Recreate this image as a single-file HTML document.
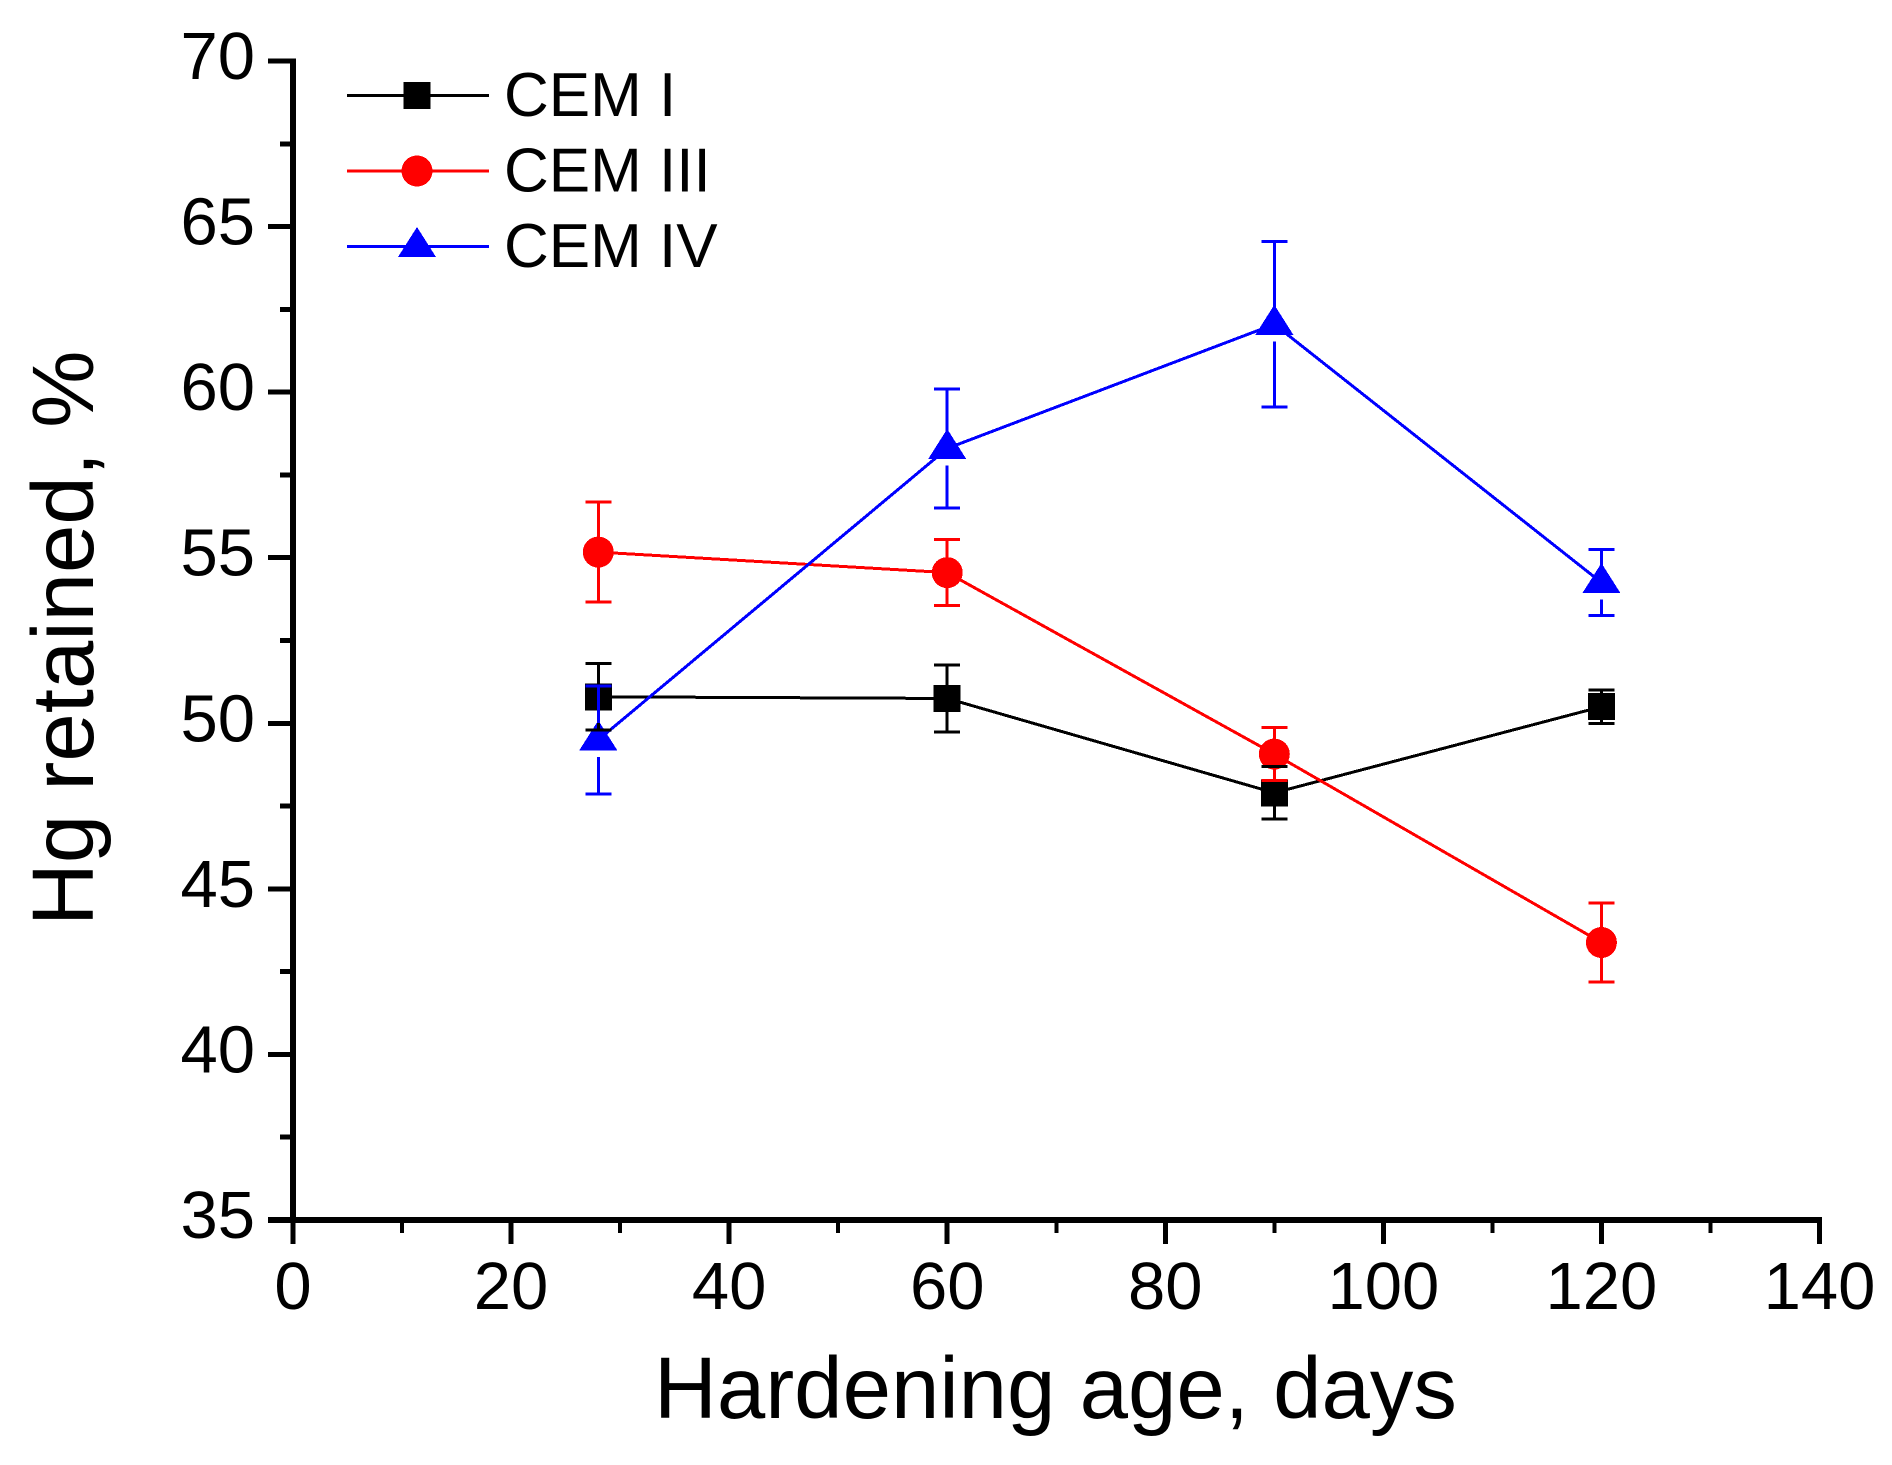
<!DOCTYPE html>
<html lang="en">
<head>
<meta charset="utf-8">
<title>Hg retained vs hardening age</title>
<style>
html,body{margin:0;padding:0;background:#fff;}
svg{display:block;}
text{font-family:"Liberation Sans",Arial,sans-serif;fill:#000;}
.tick{font-size:67px;}
.legend-text{font-size:62px;}
.title{font-size:87px;}
</style>
</head>
<body>
<svg id="chart" xmlns="http://www.w3.org/2000/svg" width="1892" height="1465" viewBox="0 0 1892 1465" shape-rendering="crispEdges">
  <rect x="0" y="0" width="1892" height="1465" fill="#fff"/>
  <g id="axes"></g>
  <g id="marks"></g>
  <g id="errors"></g>
  <text class="title" x="654" y="1418">Hardening age, days</text>
  <text class="title" transform="translate(93,926) rotate(-90)">Hg retained, %</text>
  <g id="legend"></g>
</svg>
<script>
const ages = [28, 60, 90, 120];
const cem1Values = [50.8, 50.75, 47.9, 50.5];
const cem1Errors = [1.01, 1.01, 0.79, 0.5];
const cem3Values = [55.17, 54.55, 49.07, 43.38];
const cem3Errors = [1.51, 1.0, 0.8, 1.19];
const cem4Values = [49.5, 58.3, 62.05, 54.25];
const cem4Errors = [1.63, 1.8, 2.5, 1.0];
const seriesNames = ['CEM I', 'CEM III', 'CEM IV'];
const xTickLabels = [0, 20, 40, 60, 80, 100, 120, 140];
const xMinorTicks = [10, 30, 50, 70, 90, 110, 130];
const yTickLabels = [35, 40, 45, 50, 55, 60, 65, 70];
const yMinorTicks = [37.5, 42.5, 47.5, 52.5, 57.5, 62.5, 67.5];

const NS = 'http://www.w3.org/2000/svg';
const xAxis = v => 293 + (v / 140) * (1819.5 - 293);
const yAxis = v => 1220 - ((v - 35) / 35) * (1220 - 61);

function make(parent, tag, attrs) {
  const el = document.createElementNS(NS, tag);
  for (const k in attrs) el.setAttribute(k, attrs[k]);
  parent.appendChild(el);
  return el;
}

const axes = document.getElementById('axes');
const marks = document.getElementById('marks');
const errors = document.getElementById('errors');
const legend = document.getElementById('legend');

const yLine = make(axes, 'line', {x1: 293, x2: 293, y1: 58.5, y2: 1222, stroke: '#000', 'stroke-width': 6});


const xLine = make(axes, 'line', {x1: 268, x2: 1822, y1: 1220, y2: 1220, stroke: '#000', 'stroke-width': 6});



xTickLabels.forEach(v => {
  const t = make(axes, 'line', {x1: xAxis(v), x2: xAxis(v), y1: 1220, y2: 1244, stroke: '#000', 'stroke-width': 5});
  
  
  const l = make(axes, 'text', {x: xAxis(v), y: 1309, 'text-anchor': 'middle', class: 'tick'});
  l.textContent = v;
  
  
});
xMinorTicks.forEach(v => {
  const t = make(axes, 'line', {x1: xAxis(v), x2: xAxis(v), y1: 1220, y2: 1233, stroke: '#000', 'stroke-width': 4});
  
  
});
yTickLabels.forEach(v => {
  const t = make(axes, 'line', {x1: 268, x2: 293, y1: yAxis(v), y2: yAxis(v), stroke: '#000', 'stroke-width': 5});
  
  
  const l = make(axes, 'text', {x: 255, y: yAxis(v) + 18, 'text-anchor': 'end', class: 'tick'});
  l.textContent = v;
  
  
});
yMinorTicks.forEach(v => {
  const t = make(axes, 'line', {x1: 280, x2: 293, y1: yAxis(v), y2: yAxis(v), stroke: '#000', 'stroke-width': 5});
  
  
});

function drawMarker(parent, shape, color, cx, cy) {
  let m;
  if (shape === 'square') {
    m = make(parent, 'rect', {x: cx - 13.5, y: cy - 13.5, width: 27, height: 27, fill: color});
  } else if (shape === 'circle') {
    m = make(parent, 'circle', {cx: cx, cy: cy, r: 15.5, fill: color});
  } else {
    m = make(parent, 'polygon', {points: (cx - 19) + ',' + (cy + 10.5) + ' ' + cx + ',' + (cy - 19.5) + ' ' + (cx + 19) + ',' + (cy + 10.5), fill: color});
  }
  return m;
}

function drawSeries(key, values, color, shape) {
  const poly = make(marks, 'polyline', {
    points: ages.map((a, i) => xAxis(a) + ',' + yAxis(values[i])).join(' '),
    fill: 'none', stroke: color, 'stroke-width': 3
  });
  
  
  ages.forEach((a, i) => {
    const m = drawMarker(marks, shape, color, xAxis(a), yAxis(values[i]));
    
    
  });
}

function drawErrors(key, values, errs, color, gap) {
  ages.forEach((a, i) => {
    const cx = xAxis(a);
    const cy = yAxis(values[i]);
    const top = yAxis(values[i] + errs[i]);
    const bot = yAxis(values[i] - errs[i]);
    const upper = make(errors, 'line', {x1: cx, x2: cx, y1: top, y2: Math.max(top, cy - gap), stroke: color, 'stroke-width': 3});
    
    
    const lower = make(errors, 'line', {x1: cx, x2: cx, y1: Math.min(bot, cy + gap), y2: bot, stroke: color, 'stroke-width': 3});
    
    
    const capTop = make(errors, 'line', {x1: cx - 13, x2: cx + 13, y1: top, y2: top, stroke: color, 'stroke-width': 3});
    
    
    const capBot = make(errors, 'line', {x1: cx - 13, x2: cx + 13, y1: bot, y2: bot, stroke: color, 'stroke-width': 3});
    
    
  });
}

drawSeries('cem-i', cem1Values, '#000000', 'square');
drawSeries('cem-iii', cem3Values, '#ff0000', 'circle');
drawSeries('cem-iv', cem4Values, '#0000ff', 'triangle');
drawErrors('cem-i', cem1Values, cem1Errors, '#000000', 13);
drawErrors('cem-iii', cem3Values, cem3Errors, '#ff0000', 14);
drawErrors('cem-iv', cem4Values, cem4Errors, '#0000ff', 17);

const legendColors = ['#000000', '#ff0000', '#0000ff'];
const legendShapes = ['square', 'circle', 'triangle'];
seriesNames.forEach((name, i) => {
  const ly = 95.5 + i * 75.5;
  const ln = make(legend, 'line', {x1: 347, x2: 489, y1: ly, y2: ly, stroke: legendColors[i], 'stroke-width': 3});
  
  
  const mk = drawMarker(legend, legendShapes[i], legendColors[i], 417, ly);
  
  
  const tx = make(legend, 'text', {x: 504, y: ly + 20.5, class: 'legend-text'});
  tx.textContent = name;
  
  
});
</script>
</body>
</html>
